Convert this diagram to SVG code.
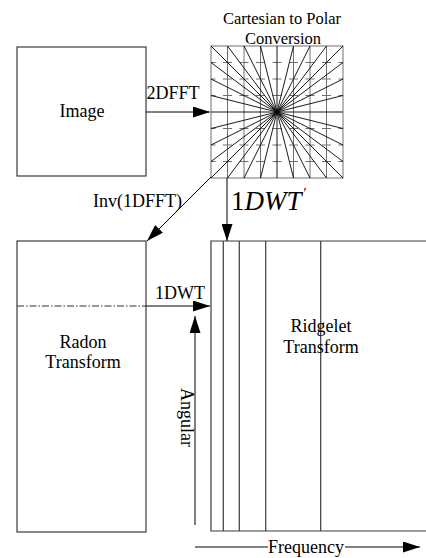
<svg xmlns="http://www.w3.org/2000/svg" width="426" height="558" viewBox="0 0 426 558">
  <style>
    .box { fill: #fff; stroke: #3a3a3a; stroke-width: 1.2; }
    .edge { fill: none; stroke: #000; stroke-width: 1; }
    .grid { stroke: #707070; stroke-width: 1; fill: none; }
    .dash { stroke: #707070; stroke-width: 1; stroke-dasharray: 9 7.5; stroke-dashoffset: 4.5; }
    .ray { stroke: #000; stroke-width: 0.9; }
    .t { font-family: 'Liberation Serif', 'Times New Roman', serif; font-size: 18px; fill: #000; }
    .title { font-size: 16.5px; }
    .big { font-size: 27px; }
    .mid { text-anchor: middle; }
  </style>
  <defs>
    <marker id="head" viewBox="0 0 17 11" refX="17" refY="5.5" markerWidth="17" markerHeight="11" markerUnits="userSpaceOnUse" orient="auto">
      <path d="M0,0 L17,5.5 L0,11 Z" fill="#000"/>
    </marker>
  </defs>

  <rect width="426" height="558" fill="#fff"/>

  <!-- Image block -->
  <g id="image">
    <rect class="box" x="17" y="47" width="129" height="129"/>
    <text class="t mid" x="82" y="117">Image</text>
  </g>

  <!-- Cartesian-to-polar grid: 8x8 cells, rays through the centre -->
  <g id="polar">
    <text class="t title mid" x="282" y="24">Cartesian to Polar</text>
    <text class="t title mid" x="283" y="43.5">Conversion</text>
    <rect class="grid" x="211" y="46" width="132" height="132" stroke="#555"/>
    <g class="grid">
      <line x1="227.5" y1="46" x2="227.5" y2="178"/>
      <line x1="244" y1="46" x2="244" y2="178"/>
      <line x1="260.5" y1="46" x2="260.5" y2="178"/>
      <line x1="293.5" y1="46" x2="293.5" y2="178"/>
      <line x1="310" y1="46" x2="310" y2="178"/>
      <line x1="326.5" y1="46" x2="326.5" y2="178"/>
    </g>
    <g>
      <line class="dash" x1="211" y1="62.5" x2="343" y2="62.5"/>
      <line class="dash" x1="211" y1="79" x2="343" y2="79"/>
      <line class="dash" x1="211" y1="95.5" x2="343" y2="95.5"/>
      <line class="dash" x1="211" y1="128.5" x2="343" y2="128.5"/>
      <line class="dash" x1="211" y1="145" x2="343" y2="145"/>
      <line class="dash" x1="211" y1="161.5" x2="343" y2="161.5"/>
    </g>
    <g class="ray">
      <!-- top edge points to bottom edge points -->
      <line x1="211" y1="46" x2="343" y2="178"/>
      <line x1="227.5" y1="46" x2="326.5" y2="178"/>
      <line x1="244" y1="46" x2="310" y2="178"/>
      <line x1="260.5" y1="46" x2="293.5" y2="178"/>
      <line x1="277" y1="46" x2="277" y2="178"/>
      <line x1="293.5" y1="46" x2="260.5" y2="178"/>
      <line x1="310" y1="46" x2="244" y2="178"/>
      <line x1="326.5" y1="46" x2="227.5" y2="178"/>
      <line x1="343" y1="46" x2="211" y2="178"/>
      <!-- left edge points to right edge points -->
      <line x1="211" y1="62.5" x2="343" y2="161.5"/>
      <line x1="211" y1="79" x2="343" y2="145"/>
      <line x1="211" y1="95.5" x2="343" y2="128.5"/>
      <line x1="211" y1="112" x2="343" y2="112"/>
      <line x1="211" y1="128.5" x2="343" y2="95.5"/>
      <line x1="211" y1="145" x2="343" y2="79"/>
      <line x1="211" y1="161.5" x2="343" y2="62.5"/>
    </g>
  </g>

  <!-- Radon transform block -->
  <g id="radon">
    <rect class="box" x="17" y="241" width="129" height="291"/>
    <line x1="17" y1="306" x2="146" y2="306" stroke="#333" stroke-width="1" stroke-dasharray="7 2 1.5 2"/>
    <text class="t mid" x="83" y="348">Radon</text>
    <text class="t mid" x="83" y="368">Transform</text>
  </g>

  <!-- Ridgelet transform block, open on the right -->
  <g id="ridgelet">
    <path d="M426,241 H211 V531 H426" fill="none" stroke="#3a3a3a" stroke-width="1.2"/>
    <g stroke="#3a3a3a" stroke-width="1.2">
      <line x1="223.3" y1="241" x2="223.3" y2="531"/>
      <line x1="239.3" y1="241" x2="239.3" y2="531"/>
      <line x1="265.7" y1="241" x2="265.7" y2="531"/>
      <line x1="320.7" y1="241" x2="320.7" y2="531"/>
    </g>
    <text class="t mid" x="321" y="332">Ridgelet</text>
    <text class="t mid" x="321" y="353">Transform</text>
  </g>

  <!-- Connectors -->
  <g id="connectors">
    <line class="edge" x1="146" y1="112" x2="210" y2="112" marker-end="url(#head)"/>
    <text class="t" x="146.5" y="99">2DFFT</text>

    <line class="edge" x1="211" y1="177" x2="147" y2="241" marker-end="url(#head)"/>
    <text class="t" x="93" y="207">Inv(1DFFT)</text>

    <line class="edge" x1="227" y1="178" x2="227" y2="241" marker-end="url(#head)"/>
    <text class="t big" x="231" y="210">1<tspan style="font-style:italic">DWT</tspan><tspan style="font-size:14px" dx="2" dy="-12">′</tspan></text>

    <line class="edge" x1="146" y1="306" x2="210" y2="306" marker-end="url(#head)"/>
    <text class="t" x="155" y="299">1DWT</text>

    <line class="edge" x1="195" y1="525" x2="195" y2="316" marker-end="url(#head)"/>
    <text class="t" transform="translate(181,388) rotate(90)">Angular</text>

    <line class="edge" x1="195" y1="547" x2="268" y2="547"/>
    <line class="edge" x1="345" y1="547" x2="420" y2="547" marker-end="url(#head)"/>
    <text class="t" x="268" y="553">Frequency</text>
  </g>
</svg>
